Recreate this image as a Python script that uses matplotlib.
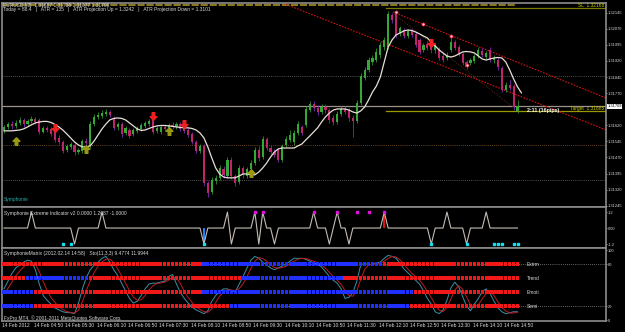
import numpy as np
import matplotlib
matplotlib.use("Agg")
import matplotlib.pyplot as plt
import matplotlib.transforms as mtransforms
from matplotlib.path import Path

plt.rcParams['font.family'] = ['Liberation Sans', 'DejaVu Sans']

# EURUSD M5, 14 Feb 2012, bars from 04:10 on
opens = [1.31598, 1.31612, 1.31626, 1.31617, 1.31631, 1.31645, 1.31626, 1.31640, 1.31649, 1.31645,
         1.31589, 1.31608, 1.31603, 1.31589, 1.31561, 1.31542, 1.31505, 1.31519, 1.31528, 1.31496,
         1.31500, 1.31547, 1.31524, 1.31626, 1.31659, 1.31663, 1.31673, 1.31682, 1.31654, 1.31612,
         1.31626, 1.31584, 1.31598, 1.31580, 1.31594, 1.31603, 1.31617, 1.31626, 1.31649, 1.31594,
         1.31589, 1.31612, 1.31608, 1.31622, 1.31612, 1.31626, 1.31608, 1.31598, 1.31580, 1.31542,
         1.31500, 1.31524, 1.31351, 1.31309, 1.31361, 1.31375, 1.31416, 1.31384, 1.31458, 1.31384,
         1.31356, 1.31421, 1.31384, 1.31416, 1.31444, 1.31505, 1.31472, 1.31556, 1.31514, 1.31496,
         1.31505, 1.31458, 1.31528, 1.31552, 1.31542, 1.31584, 1.31612, 1.31622, 1.31691, 1.31719,
         1.31701, 1.31682, 1.31705, 1.31691, 1.31654, 1.31635, 1.31673, 1.31696, 1.31691, 1.31654,
         1.31640, 1.31724, 1.31841, 1.31878, 1.31915, 1.31924, 1.31948, 1.31985, 1.31985, 1.32134,
         1.32139, 1.32050, 1.32064, 1.32036, 1.32060, 1.32046, 1.32018, 1.31971, 1.31999, 1.32008,
         1.31971, 1.31971, 1.31943, 1.31934, 1.31971, 1.32008, 1.31985, 1.31952, 1.31915, 1.31910,
         1.31920, 1.31943, 1.31966, 1.31938, 1.31971, 1.31924, 1.31924, 1.31887, 1.31785, 1.31808,
         1.31803, 1.31687]
highs = [1.31622, 1.31635, 1.31640, 1.31645, 1.31659, 1.31654, 1.31649, 1.31663, 1.31659, 1.31654,
         1.31617, 1.31617, 1.31612, 1.31598, 1.31575, 1.31552, 1.31533, 1.31542, 1.31538, 1.31514,
         1.31556, 1.31561, 1.31640, 1.31673, 1.31682, 1.31691, 1.31696, 1.31691, 1.31663, 1.31635,
         1.31635, 1.31617, 1.31608, 1.31608, 1.31617, 1.31631, 1.31640, 1.31649, 1.31659, 1.31617,
         1.31622, 1.31626, 1.31631, 1.31635, 1.31635, 1.31635, 1.31617, 1.31608, 1.31589, 1.31552,
         1.31533, 1.31533, 1.31361, 1.31379, 1.31389, 1.31435, 1.31430, 1.31472, 1.31472, 1.31393,
         1.31435, 1.31430, 1.31426, 1.31458, 1.31519, 1.31524, 1.31570, 1.31566, 1.31528, 1.31510,
         1.31514, 1.31533, 1.31570, 1.31598, 1.31598, 1.31640, 1.31622, 1.31710, 1.31733, 1.31733,
         1.31715, 1.31719, 1.31719, 1.31701, 1.31668, 1.31687, 1.31710, 1.31710, 1.31701, 1.31668,
         1.31738, 1.31864, 1.31892, 1.31938, 1.31948, 1.31980, 1.32008, 1.32032, 1.32153, 1.32143,
         1.32153, 1.32083, 1.32074, 1.32069, 1.32069, 1.32055, 1.32027, 1.32004, 1.32013, 1.32018,
         1.32004, 1.31985, 1.31957, 1.31962, 1.32027, 1.32018, 1.31994, 1.31962, 1.31924, 1.31934,
         1.31952, 1.31985, 1.31980, 1.31966, 1.31985, 1.31948, 1.31938, 1.31896, 1.31822, 1.31831,
         1.31813, 1.31738]
lows = [1.31584, 1.31603, 1.31603, 1.31608, 1.31622, 1.31612, 1.31617, 1.31631, 1.31626, 1.31580,
        1.31584, 1.31589, 1.31570, 1.31542, 1.31533, 1.31491, 1.31496, 1.31510, 1.31482, 1.31486,
        1.31491, 1.31528, 1.31514, 1.31617, 1.31649, 1.31654, 1.31663, 1.31659, 1.31598, 1.31598,
        1.31566, 1.31575, 1.31561, 1.31570, 1.31584, 1.31594, 1.31608, 1.31617, 1.31580, 1.31584,
        1.31580, 1.31594, 1.31598, 1.31603, 1.31603, 1.31594, 1.31584, 1.31566, 1.31533, 1.31491,
        1.31491, 1.31337, 1.31286, 1.31300, 1.31347, 1.31365, 1.31375, 1.31375, 1.31370, 1.31337,
        1.31347, 1.31375, 1.31375, 1.31407, 1.31435, 1.31454, 1.31463, 1.31505, 1.31486, 1.31472,
        1.31449, 1.31449, 1.31519, 1.31542, 1.31528, 1.31575, 1.31575, 1.31612, 1.31682, 1.31687,
        1.31668, 1.31673, 1.31677, 1.31631, 1.31622, 1.31626, 1.31663, 1.31673, 1.31640, 1.31566,
        1.31631, 1.31715, 1.31831, 1.31869, 1.31901, 1.31915, 1.31934, 1.31971, 1.31976, 1.32097,
        1.32027, 1.32036, 1.32027, 1.32027, 1.32032, 1.31985, 1.31952, 1.31962, 1.31971, 1.31957,
        1.31957, 1.31924, 1.31915, 1.31924, 1.31962, 1.31971, 1.31943, 1.31901, 1.31882, 1.31901,
        1.31910, 1.31934, 1.31938, 1.31929, 1.31915, 1.31910, 1.31878, 1.31775, 1.31775, 1.31785,
        1.31691, 1.31677]
closes = [1.31612, 1.31626, 1.31617, 1.31631, 1.31645, 1.31626, 1.31640, 1.31649, 1.31635, 1.31589,
          1.31608, 1.31598, 1.31580, 1.31552, 1.31542, 1.31500, 1.31524, 1.31533, 1.31496, 1.31505,
          1.31547, 1.31538, 1.31626, 1.31659, 1.31668, 1.31677, 1.31682, 1.31668, 1.31608, 1.31626,
          1.31580, 1.31608, 1.31570, 1.31598, 1.31608, 1.31622, 1.31631, 1.31640, 1.31589, 1.31608,
          1.31612, 1.31603, 1.31622, 1.31612, 1.31626, 1.31603, 1.31594, 1.31575, 1.31542, 1.31500,
          1.31524, 1.31351, 1.31305, 1.31365, 1.31375, 1.31421, 1.31389, 1.31458, 1.31384, 1.31351,
          1.31421, 1.31389, 1.31416, 1.31444, 1.31505, 1.31468, 1.31556, 1.31514, 1.31496, 1.31482,
          1.31458, 1.31524, 1.31556, 1.31575, 1.31584, 1.31626, 1.31584, 1.31696, 1.31719, 1.31701,
          1.31682, 1.31705, 1.31691, 1.31645, 1.31635, 1.31673, 1.31696, 1.31682, 1.31654, 1.31640,
          1.31724, 1.31850, 1.31878, 1.31924, 1.31934, 1.31962, 1.31994, 1.32018, 1.32139, 1.32111,
          1.32041, 1.32074, 1.32036, 1.32060, 1.32041, 1.31994, 1.31962, 1.31994, 1.31980, 1.31971,
          1.31994, 1.31934, 1.31924, 1.31948, 1.32008, 1.31980, 1.31952, 1.31910, 1.31892, 1.31924,
          1.31943, 1.31971, 1.31948, 1.31957, 1.31924, 1.31934, 1.31892, 1.31785, 1.31808, 1.31794,
          1.31705, 1.31709]
# white moving average (runs one bar past the last candle)
ma = [1.31594, 1.31594, 1.31594, 1.31596, 1.31598, 1.31603, 1.31612, 1.31622, 1.31631, 1.31635,
      1.31638, 1.31638, 1.31633, 1.31624, 1.31612, 1.31598, 1.31580, 1.31561, 1.31542, 1.31528,
      1.31519, 1.31519, 1.31524, 1.31547, 1.31575, 1.31603, 1.31626, 1.31645, 1.31652, 1.31654,
      1.31652, 1.31645, 1.31631, 1.31617, 1.31603, 1.31596, 1.31598, 1.31605, 1.31612, 1.31617,
      1.31619, 1.31619, 1.31617, 1.31615, 1.31612, 1.31610, 1.31608, 1.31608, 1.31605, 1.31598,
      1.31584, 1.31561, 1.31519, 1.31468, 1.31421, 1.31393, 1.31379, 1.31375, 1.31375, 1.31375,
      1.31384, 1.31393, 1.31393, 1.31389, 1.31389, 1.31402, 1.31421, 1.31444, 1.31472, 1.31496,
      1.31510, 1.31514, 1.31514, 1.31514, 1.31514, 1.31524, 1.31533, 1.31552, 1.31570, 1.31589,
      1.31608, 1.31635, 1.31659, 1.31677, 1.31691, 1.31696, 1.31696, 1.31696, 1.31691, 1.31682,
      1.31677, 1.31687, 1.31705, 1.31738, 1.31775, 1.31803, 1.31845, 1.31915, 1.31985, 1.32018,
      1.32041, 1.32050, 1.32060, 1.32064, 1.32062, 1.32055, 1.32046, 1.32036, 1.32027, 1.32008,
      1.31990, 1.31971, 1.31957, 1.31943, 1.31938, 1.31943, 1.31952, 1.31962, 1.31964, 1.31962,
      1.31957, 1.31943, 1.31929, 1.31924, 1.31929, 1.31934, 1.31936, 1.31934, 1.31915, 1.31878,
      1.31836, 1.31799, 1.31771]

price_ticks = [1.32145, 1.32070, 1.31995, 1.31920, 1.31845, 1.31770, 1.31620,
               1.31545, 1.31470, 1.31395, 1.31320, 1.31245]
bid = 1.31709
target = 1.31685
stop_loss = 1.32168
top_level = 1.32181
dotted_levels = [1.31852, 1.31365]
brown_level = 1.31526

up_arrow_bars = [3, 21, 42, 63]
up_arrow_prices = [1.31547, 1.31510, 1.31594, 1.31398]
dn_arrow_bars = [13, 38, 46, 109]
dn_arrow_prices = [1.31608, 1.31663, 1.31626, 1.32004]
dot_bars = [100, 107, 114, 118]
dot_prices = [1.32148, 1.32092, 1.32036, 1.31901]
channel_upper = ([99.2, 153.6], [1.32148, 1.31747])
channel_lower = ([69.1, 153.6], [1.32204, 1.31598])
trend_line = ([99.5, 130.1], [1.32139, 1.31701])

# Symphonie Extreme
ext_up = [7, 25, 57, 64, 66, 79, 85, 97, 113, 123]
ext_dn = [18, 51, 58, 65, 69, 83, 88, 109, 118]
ext_level = 1.2
cyan_dots = [15, 17, 51, 109, 118, 125, 126, 127, 130, 131]
magenta_dots = [64, 66, 79, 85, 90, 93, 97]

# Symphonie Matrix rows (colour, number of bars)
matrix_names = ['Extrm', 'Trend', 'Emoti', 'Semi']
matrix_levels = [80, 60, 40, 20]
matrix_runs = [
    [('r', 51), ('b', 46), ('r', 35)],
    [('r', 6), ('b', 16), ('r', 39), ('b', 26), ('r', 45)],
    [('b', 8), ('r', 43), ('b', 54), ('r', 27)],
    [('b', 8), ('r', 50), ('b', 46), ('r', 28)],
]
sto_main = [44.5, 55.5, 66.4, 74.5, 78.6, 82.7, 85.5, 84.1, 71.8, 51.4, 35, 28.2, 22.7, 17.3, 14.5,
            11.8, 10.5, 10.5, 9.1, 24.1, 44.5, 60.9, 71.8, 78.6, 82.7, 88.2, 90.9, 82.7, 71.8, 63.6,
            52.7, 41.8, 30.9, 24.1, 26.8, 35, 44.5, 51.4, 52.7, 52.7, 54.1, 55.5, 62.3, 65, 51.4,
            39.1, 30.9, 24.1, 18.6, 14.5, 11.8, 9.1, 13.2, 26.8, 35, 40.5, 44.5, 44.5, 41.8, 40.5,
            51.4, 62.3, 74.5, 85.5, 90.9, 88.2, 82.7, 78.6, 74.5, 71.8, 74.5, 77.3, 80, 84.1, 88.2,
            88.2, 88.2, 86.8, 84.1, 81.4, 80, 75.9, 69.1, 62.3, 56.8, 52.7, 44.5, 30.9, 32.3, 39.1,
            55.5, 78.6, 81.4, 78.6, 80, 81.4, 82.7, 88.2, 92.3, 90.9, 88.2, 81.4, 73.2, 67.7, 62.3,
            56.8, 51.4, 41.8, 30.9, 22.7, 11.8, 9.1, 14.5, 28.2, 45.9, 54.1, 47.3, 33.6, 20, 13.2,
            22.7, 30.9, 40.5, 44.5, 37.7, 26.8, 17.3, 11.8, 9.1, 10.5, 11.8, 11.8]
sto_signal = [38, 45, 54, 63, 70, 76, 80, 83, 80, 69, 55, 42, 32, 25, 19, 15, 12, 11, 10, 14,
              26, 42, 56, 68, 77, 83, 87, 87, 82, 73, 63, 53, 42, 33, 28, 29, 35, 43, 49, 52,
              53, 54, 57, 61, 60, 52, 41, 32, 25, 19, 15, 12, 11, 16, 25, 34, 40, 43, 43, 42,
              45, 52, 62, 74, 84, 89, 88, 84, 79, 75, 74, 75, 77, 81, 84, 87, 88, 88, 86, 84,
              82, 79, 74, 68, 62, 57, 51, 42, 35, 34, 42, 58, 72, 79, 80, 80, 81, 84, 88, 91,
              90, 86, 80, 73, 67, 62, 57, 50, 41, 32, 22, 14, 12, 18, 30, 43, 49, 44, 33, 22,
              18, 22, 30, 38, 41, 35, 26, 18, 13, 10, 10, 11]

time_bars = [0, 8, 16, 24, 32, 40, 48, 56, 64, 72, 80, 88, 96, 104, 112, 120, 128]
time_labels = ['14 Feb 2012', '14 Feb 04:50', '14 Feb 05:30', '14 Feb 06:10', '14 Feb 06:50',
               '14 Feb 07:30', '14 Feb 08:10', '14 Feb 08:50', '14 Feb 09:30', '14 Feb 10:10',
               '14 Feb 10:50', '14 Feb 11:30', '14 Feb 12:10', '14 Feb 12:50', '14 Feb 13:30',
               '14 Feb 14:10', '14 Feb 14:50']

W, H = 625, 332
GRID = '#8c8c8c'
TXT = '#d8d8d8'
UP, DN = '#34a834', '#c0246c'
UP_WICK, DN_WICK = '#2f8f2f', '#7a2ab4'
RED_SQ, BLUE_SQ = '#f01818', '#2030ff'
FS = 3.5
AXFS = 2.9

fig = plt.figure(figsize=(W / 100, H / 100), dpi=100, facecolor='black')


def box(top, bottom, left=2, right=606):
    return [left / W, 1 - bottom / H, (right - left) / W, (bottom - top) / H]


def ftext(x, y, s, **kw):
    kw.setdefault('fontsize', FS)
    kw.setdefault('color', TXT)
    fig.text(x / W, 1 - y / H, s, va='center', **kw)


ax1 = fig.add_axes(box(3, 207))
ax2 = fig.add_axes(box(207, 248))
ax3 = fig.add_axes(box(248, 321))
for ax in (ax1, ax2, ax3):
    ax.set_facecolor('black')
    for s in ax.spines.values():
        s.set_color(GRID)
        s.set_linewidth(1.2)
    ax.set_xlim(-0.51, 153.57)
    ax.set_xticks([])
    ax.yaxis.tick_right()
    ax.tick_params(axis='y', colors=TXT, labelsize=AXFS, length=1.0, width=0.5, pad=0.5)

# ---- main price window
o, h, l, c = map(np.array, (opens, highs, lows, closes))
x = np.arange(len(c))
up = c >= o
ax1.vlines(x[up], l[up], h[up], color=UP_WICK, lw=0.6, zorder=3)
ax1.vlines(x[~up], l[~up], h[~up], color=DN_WICK, lw=0.6, zorder=3)
body = np.maximum(np.abs(c - o), 0.00003)
ax1.bar(x[up], body[up], bottom=np.minimum(o, c)[up], width=0.55, color=UP, lw=0, zorder=4)
ax1.bar(x[~up], body[~up], bottom=np.minimum(o, c)[~up], width=0.55, color=DN, lw=0, zorder=4)
ax1.plot(np.arange(len(ma)), ma, color='#e8e0d8', lw=0.9, zorder=5)

ax1.axhline(bid, color='#9c948a', lw=0.9, zorder=1)
ax1.axhline(brown_level, color='#8a5a2a', lw=0.6, ls=(0, (1, 1.5)), zorder=1)
for lev in dotted_levels:
    ax1.axhline(lev, color='#6a6a6a', lw=0.6, ls=(0, (1, 1.5)), zorder=1)
ax1.plot([-0.5, 130.4], [top_level, top_level], color='#9a8420', lw=1.3, ls=(0, (4, 1)), zorder=2)
ax1.plot([97.4, 153.6], [stop_loss, stop_loss], color='#7a7a00', lw=0.9, zorder=2)
ax1.plot([97.4, 153.6], [target, target], color='#9a9a00', lw=0.9, zorder=2)
for xs, ys in (channel_upper, channel_lower):
    ax1.plot(xs, ys, color='#d41414', lw=0.8, ls=(0, (1.5, 1.2)), zorder=2)
ax1.plot(*trend_line, color='#7a3020', lw=0.6, ls=(0, (1, 1.5)), zorder=2)

up_arrow = Path([(0, 1), (0.9, 0.05), (0.35, 0.05), (0.35, -1), (-0.35, -1), (-0.35, 0.05),
                 (-0.9, 0.05), (0, 1)])
dn_arrow = Path([(px, -py) for px, py in up_arrow.vertices])
ax1.plot(up_arrow_bars, up_arrow_prices, ls='none', marker=up_arrow, ms=5.5, color='#9a9a10', zorder=6)
ax1.plot(dn_arrow_bars, dn_arrow_prices, ls='none', marker=dn_arrow, ms=5.5, color='#f02020', zorder=6)
ax1.plot(dot_bars, dot_prices, ls='none', marker='o', ms=2.2, mfc='#ffd0d0', mec='#e02040',
         mew=0.6, zorder=6)

ax1.set_ylim(1.31239, 1.32190)
ax1.set_yticks(price_ticks)
ax1.set_yticklabels(['%.5f' % p for p in price_ticks])
yx = mtransforms.blended_transform_factory(ax1.transAxes, ax1.transData)
ax1.text(1.002, bid, '%.5f' % bid, transform=yx, fontsize=AXFS, color='black', va='center',
         bbox=dict(fc='white', ec='none', pad=0.3))
ax1.text(0.997, stop_loss, 'SL  %.5f' % stop_loss, transform=yx, fontsize=FS, color='#c8c800',
         ha='right', va='bottom')
ax1.text(0.997, target, 'Target  %.5f' % target, transform=yx, fontsize=FS, color='#c8c800',
         ha='right', va='bottom')
ax1.text(133.4, 1.31691, '2:11 (16pips)', fontsize=FS + 0.3, color='white', weight='bold',
         va='center')

ftext(3, 5, 'EURUSD,M5  1.31687 1.31738 1.31677 1.31709')
ftext(3, 10, 'Today = 88.4   |   ATR = 135   |   ATR Projection Up = 1.3242   |   '
      'ATR Projection Down = 1.3101')
ftext(4, 199, 'Symphonie', color='#20b0b0')

# ---- Symphonie Extreme
extreme = np.zeros(len(closes))
extreme[ext_up] = ext_level
extreme[ext_dn] = -ext_level
ax2.plot(x, extreme, color='#c4bcb4', lw=0.8, zorder=3)
ax2.bar([51], [-ext_level], width=0.6, color='#1e7cff', zorder=2)
ax2.bar([97], [ext_level], width=0.6, color='#e01010', zorder=2)
ax2.plot(cyan_dots, [-ext_level] * len(cyan_dots), ls='none', marker='s', ms=1.6, color='#10e0f0', zorder=4)
ax2.plot(magenta_dots, [ext_level] * len(magenta_dots), ls='none', marker='s', ms=1.6, color='#e010e0',
         zorder=4)
ax2.set_ylim(-1.50, 1.58)
ax2.set_yticks([1.2, 0, -1.2])
ax2.set_yticklabels(['1.2', '0.00', '-1.2'])
ftext(4, 213, 'Symphonie Extreme Indicator v2 0.0000 1.2087 -1.0000')

# ---- Symphonie Matrix
for lev in (80, 20):
    ax3.axhline(lev, color='#8a8a8a', lw=0.6, ls=(0, (1, 1.5)), zorder=1)
ax3.plot(x, sto_main, color='#3a90a8', lw=0.7, zorder=2)
ax3.plot(x, sto_signal, color='#c01c1c', lw=0.7, zorder=2)
for name, lev, runs in zip(matrix_names, matrix_levels, matrix_runs):
    colours = []
    for col, n in runs:
        colours += [RED_SQ if col == 'r' else BLUE_SQ] * n
    ax3.scatter(x, [lev] * len(x), marker='s', s=5.5, c=colours, lw=0, zorder=3)
    ax3.text(133.3, lev, name, fontsize=FS, color=TXT, va='center')
ax3.set_ylim(-1.4, 102.9)
ax3.set_yticks([100, 80, 20, 0])
ax3.set_yticklabels(['100', '80', '20', '0'])
xt = ax3.get_xaxis_transform()
for b, lab in zip(time_bars, time_labels):
    ax3.text(b - 0.4, -0.06, lab, transform=xt, fontsize=FS, color=TXT, va='center', ha='left',
             clip_on=False)
ftext(4, 253, 'SymphonieMatrix (2012.02.14 14:58)   Sto(11,3,3) 9.4774 11.9944')
ftext(4, 318, 'FxPro MT4, \u00a9 2001-2011 MetaQuotes Software Corp.')

fig.savefig('out.png', dpi=100, facecolor='black')
